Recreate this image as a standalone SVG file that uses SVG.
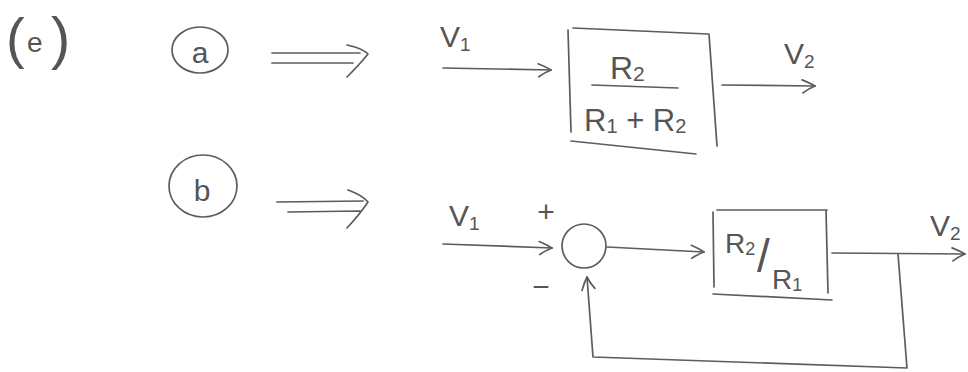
<svg xmlns="http://www.w3.org/2000/svg" width="968" height="372" viewBox="0 0 968 372">
<style>
  .ln{fill:none;stroke:#5c5c5c;stroke-width:1.7;stroke-linecap:round;stroke-linejoin:round}
  .tx{font-family:"Liberation Sans","DejaVu Sans",sans-serif;fill:#555;}
  .lbl{font-size:30px}
  .sub{font-size:19px}
</style>
<defs>
  <marker id="ah" viewBox="0 0 16 16" refX="15" refY="8" markerWidth="16" markerHeight="16" markerUnits="userSpaceOnUse" orient="auto">
    <path d="M2,2 Q10,5 15,8 Q8,11 3,15" fill="none" stroke="#5c5c5c" stroke-width="1.7" stroke-linecap="round"/>
  </marker>
</defs>
<rect width="968" height="372" fill="#ffffff"/>

<g id="label-e">
  <text class="tx"><tspan x="6" y="57" font-size="56">(</tspan><tspan x="27" y="52" font-size="28">e</tspan><tspan x="51" y="58" font-size="58">)</tspan></text>
</g>

<g id="case-a">
  <ellipse cx="200" cy="50" rx="28" ry="23" class="ln"/>
  <text class="tx" x="200" y="63" font-size="30" text-anchor="middle">a</text>
</g>
<g id="case-b">
  <ellipse cx="203" cy="186" rx="34" ry="31" class="ln"/>
  <text class="tx" x="202" y="201" font-size="30" text-anchor="middle">b</text>
</g>

<g id="implies-a">
  <path class="ln" d="M272,53 L360,53 M272,63 L353,63 M347,45 Q362,48 368,54 Q360,64 347,77"/>
</g>
<g id="implies-b">
  <path class="ln" d="M277,202 L363,201 M288,212 L360,211 M348,190 Q362,195 368,202 Q360,214 347,228"/>
</g>

<g id="block-a">
  <path class="ln" d="M568,30 L571,132 M573,28 L708,34 M709,34 L717,146 M571,141 L696,154"/>
  <path class="ln" d="M592,85 L678,88"/>
  <text class="tx" x="610" y="79" font-size="32">R<tspan font-size="21" dy="2">2</tspan></text>
  <text class="tx" x="584" y="131" font-size="31">R<tspan font-size="20" dy="2">1</tspan><tspan dy="-2"> + R</tspan><tspan font-size="20" dy="2">2</tspan></text>
</g>

<g id="labels-a">
  <text class="tx lbl" x="440" y="47">V<tspan class="sub" dy="4">1</tspan></text>
  <text class="tx lbl" x="784" y="64">V<tspan class="sub" dy="4">2</tspan></text>
</g>

<g id="sum">
  <circle cx="584" cy="246" r="22" class="ln"/>
  <text class="tx" x="546" y="222" font-size="30" text-anchor="middle">+</text>
  <text class="tx" x="541" y="297" font-size="30" text-anchor="middle">−</text>
</g>

<g id="block-b">
  <path class="ln" d="M713,212 L714,287 M717,210 L827,210 M826,210 L828,293 M713,294 L832,300"/>
  <text class="tx"><tspan x="725" y="253" font-size="28">R</tspan><tspan font-size="18" dy="2">2</tspan><tspan x="757" y="272" font-size="46">/</tspan><tspan x="772" y="289" font-size="28">R</tspan><tspan font-size="18" dy="2">1</tspan></text>
</g>

<g id="labels-b">
  <text class="tx lbl" x="449" y="226">V<tspan class="sub" dy="4">1</tspan></text>
  <text class="tx lbl" x="930" y="236">V<tspan class="sub" dy="4">2</tspan></text>
</g>

<g id="connectors">
  <path class="ln" d="M443,68 L551,70" marker-end="url(#ah)"/>
  <path class="ln" d="M722,85 L815,86" marker-end="url(#ah)"/>
  <path class="ln" d="M443,244 L552,248" marker-end="url(#ah)"/>
  <path class="ln" d="M607,247 L704,252" marker-end="url(#ah)"/>
  <path class="ln" d="M832,253 L965,254" marker-end="url(#ah)"/>
  <path class="ln" d="M898,254 L907,368 L593,357 L587,277" marker-end="url(#ah)"/>
</g>
</svg>
